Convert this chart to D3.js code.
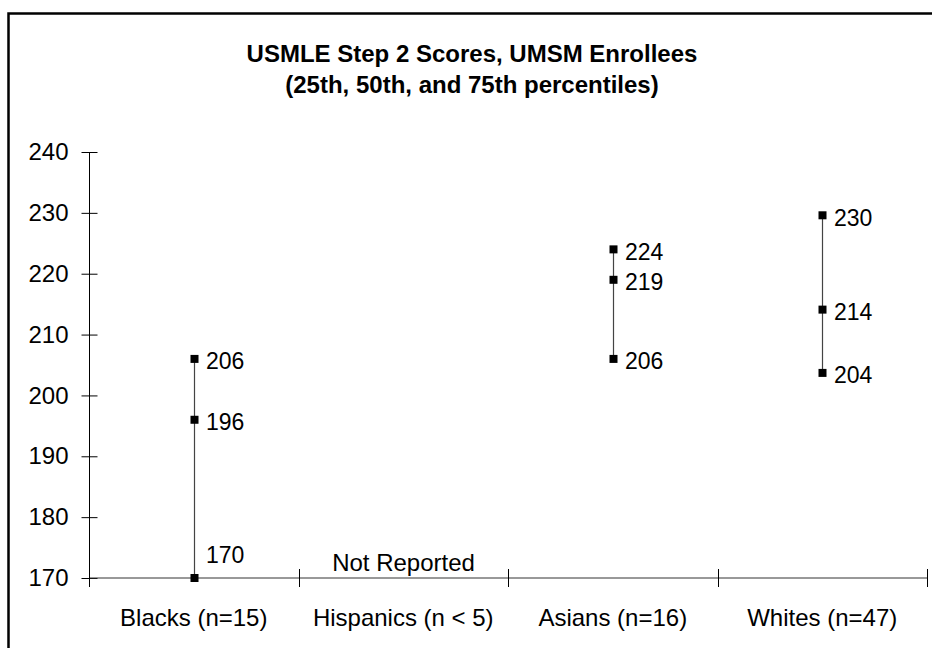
<!DOCTYPE html>
<html>
<head>
<meta charset="utf-8">
<script src="https://cdn.jsdelivr.net/npm/d3@7"></script>
<style>
  html, body { margin: 0; padding: 0; background: #fff; }
  svg { display: block; font-family: "Liberation Sans", Arial, sans-serif; }
</style>
</head>
<body>
<div id="chart"></div>
<script>
// ---- data ----
const titleLines = ["USMLE Step 2 Scores, UMSM Enrollees", "(25th, 50th, and 75th percentiles)"];
const categories = ["Blacks (n=15)", "Hispanics (n < 5)", "Asians (n=16)", "Whites (n=47)"];
const p25 = [170, null, 206, 203.7];
const p50 = [196, null, 219, 214.1];
const p75 = [206, null, 224, 229.6];
const yTicks = [170, 180, 190, 200, 210, 220, 230, 240];
const notReportedText = "Not Reported";

// ---- layout ----
const W = 932, H = 648;
const svg = d3.select("#chart").append("svg").attr("width", W).attr("height", H);

// outer frame (cut off right and bottom)
svg.append("rect").attr("x", 8.5).attr("y", 13.5).attr("width", 940).attr("height", 660)
  .attr("fill", "none").attr("stroke", "#000").attr("stroke-width", 2.5);

// title
svg.append("g").selectAll("text").data(titleLines).join("text")
  .attr("x", 472).attr("y", (d, i) => 62 + i * 31)
  .attr("text-anchor", "middle").attr("font-weight", "bold").attr("font-size", 24)
  .attr("fill", "#000").text(d => d);

const y = d3.scaleLinear().domain([170, 240]).range([578, 152]);
const x = d3.scaleBand().domain(categories).range([89, 927]).padding(0);

// y axis
const yAxis = svg.append("g").attr("transform", "translate(89.5,0)")
  .call(d3.axisLeft(y).tickValues(yTicks).tickSize(8).tickPadding(13).tickFormat(d3.format("d")));
yAxis.select(".domain").remove();
yAxis.append("line").attr("x1", 0).attr("x2", 0).attr("y1", y(240)).attr("y2", y(170) + 9)
  .attr("stroke", "#000");
yAxis.selectAll(".tick line").attr("x1", -8).attr("x2", 8).attr("stroke", "#000");
yAxis.selectAll(".tick text").attr("font-size", 24).attr("fill", "#000")
  .attr("font-family", "Liberation Sans, Arial, sans-serif");

// x axis
const xa = svg.append("g");
xa.append("line").attr("x1", 89).attr("x2", 927).attr("y1", y(170)).attr("y2", y(170))
  .attr("stroke", "#333");
const bounds = categories.map(c => x(c)).concat([x.range()[1]]);
xa.selectAll("line.ct").data(bounds).join("line").attr("class", "ct")
  .attr("x1", d => Math.round(d) + 0.5).attr("x2", d => Math.round(d) + 0.5)
  .attr("y1", y(170) - 9).attr("y2", y(170) + 9).attr("stroke", "#000");
xa.selectAll("text").data(categories).join("text")
  .attr("x", d => x(d) + x.bandwidth() / 2).attr("y", 626)
  .attr("text-anchor", "middle").attr("font-size", 24).attr("fill", "#000").text(d => d);

// series
const rows = categories.map((c, i) => ({ c, v: [p25[i], p50[i], p75[i]] }));
const fmt = d3.format(".0f");
const g = svg.append("g");
rows.forEach(r => {
  const cx = Math.round(x(r.c) + x.bandwidth() / 2) + 0.5;
  if (r.v[0] == null) {
    g.append("text").attr("x", cx).attr("y", 571).attr("text-anchor", "middle")
      .attr("font-size", 24).attr("fill", "#000").text(notReportedText);
    return;
  }
  g.append("line").attr("x1", cx).attr("x2", cx)
    .attr("y1", y(d3.min(r.v))).attr("y2", y(d3.max(r.v)))
    .attr("stroke", "#444").attr("stroke-width", 1.2);
  g.selectAll(null).data(r.v).join("rect")
    .attr("x", cx - 4).attr("y", d => y(d) - 4).attr("width", 8).attr("height", 8)
    .attr("fill", "#000");
  g.selectAll(null).data(r.v).join("text")
    .attr("x", cx + 11.5)
    .attr("y", d => d === 170 ? y(d) - 15 : y(d) + 10.5)
    .attr("font-size", 23).attr("fill", "#000").text(d => fmt(d));
});
</script>
</body>
</html>
